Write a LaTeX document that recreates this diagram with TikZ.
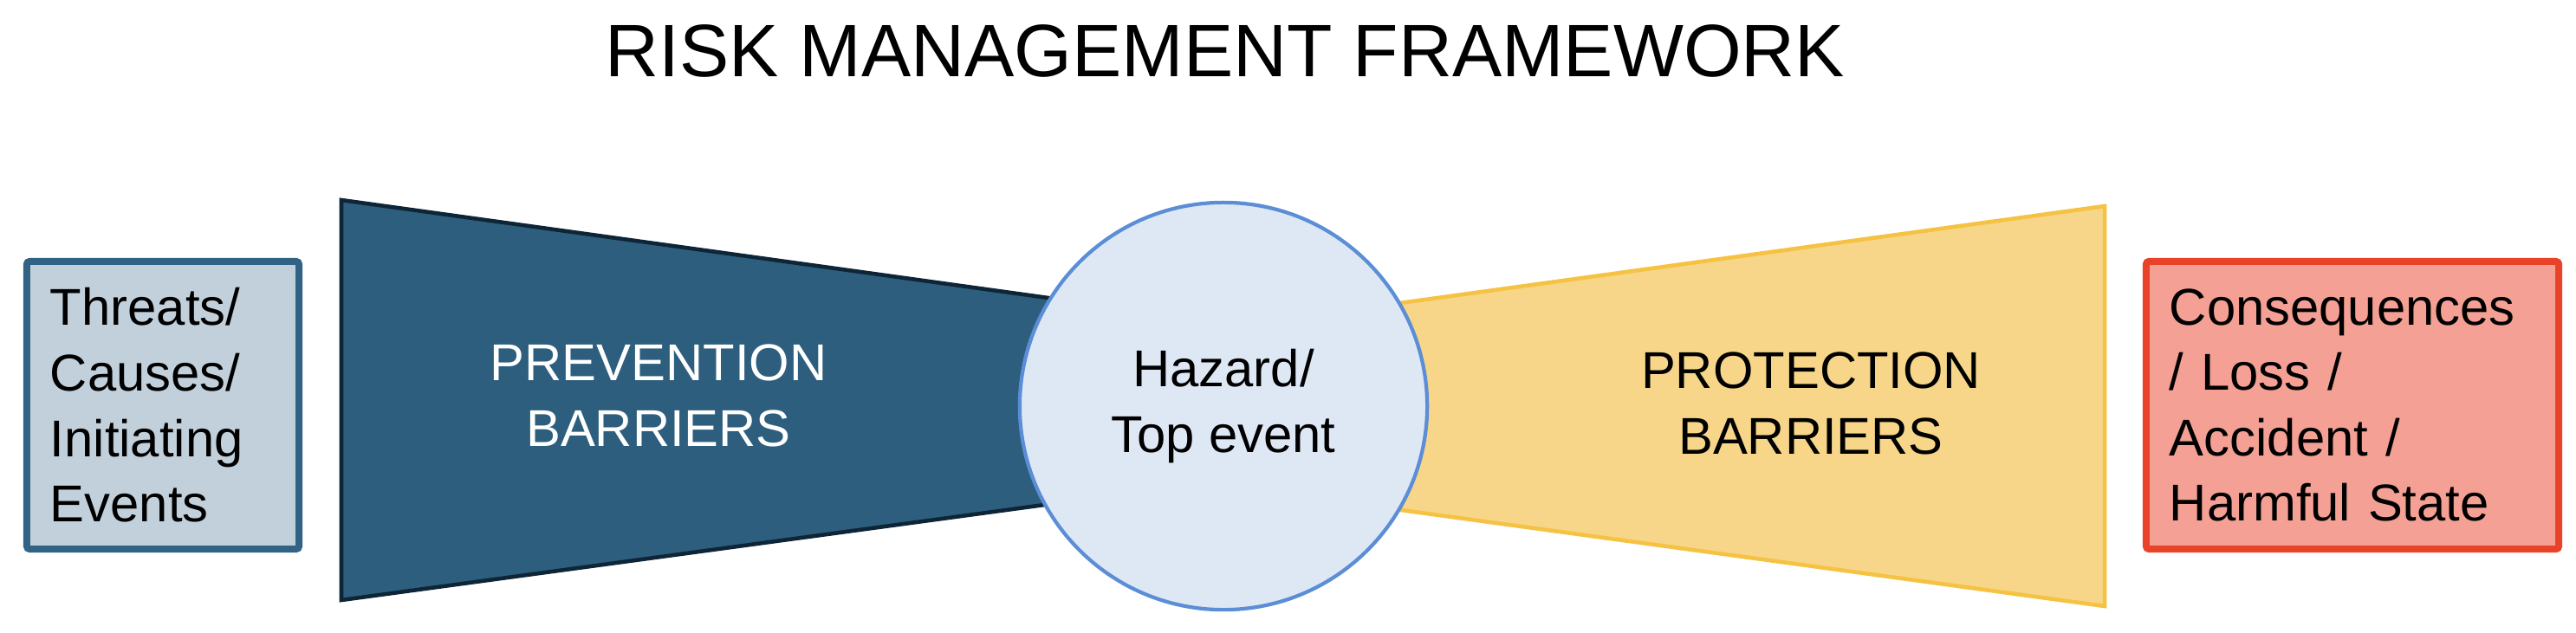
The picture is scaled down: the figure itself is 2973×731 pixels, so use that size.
\documentclass[tikz,border=0pt]{standalone}
\usepackage{fontspec}
\setmainfont{Liberation Sans}
\definecolor{prevfill}{HTML}{2E5E7E}
\definecolor{prevline}{HTML}{0E2537}
\definecolor{protfill}{HTML}{F7D689}
\definecolor{protline}{HTML}{F5C242}
\definecolor{hazfill}{HTML}{DEE8F5}
\definecolor{hazline}{HTML}{5B8ED6}
\definecolor{causefill}{HTML}{C1D0DB}
\definecolor{causeline}{HTML}{326385}
\definecolor{consfill}{HTML}{F4A094}
\definecolor{consline}{HTML}{E84328}
\newcommand{\boxfont}{\fontsize{17pt}{21.5pt}\selectfont}

\begin{document}
\begin{tikzpicture}[x=0.01cm,y=-0.01cm,
    box/.style={draw,line width=2.3pt,rounded corners=1pt,inner xsep=0.27cm,inner ysep=0pt,
        align=left,font=\boxfont,minimum height=3.32cm},
    barrier/.style={line width=1.3pt,line join=miter},
    label/.style={align=center,font=\boxfont}]
    \useasboundingbox (0,0) rectangle (2973,731);
    \node (title) at (1414,89) [anchor=base,font=\fontsize{24.4pt}{30pt}\selectfont] {RISK MANAGEMENT FRAMEWORK};
    % barriers
    \filldraw[barrier,draw=prevline,fill=prevfill] (394,231) -- (1412,372) -- (1412,555) -- (394,693) -- cycle;
    \filldraw[barrier,draw=protline,fill=protfill] (1412,378) -- (2429,238) -- (2429,700) -- (1412,561) -- cycle;
    \node (prev) at (760,457) [label,text=white] {PREVENTION\\BARRIERS};
    \node (prot) at (2090,466) [label] {PROTECTION\\BARRIERS};
    % top event
    \node (hazard) at (1412,469) [circle,draw=hazline,fill=hazfill,line width=1.2pt,
        minimum size=4.70cm,inner sep=0pt,label] {Hazard/\\Top event};
    % causes and consequences
    \node (causes) at (188,468) [box,draw=causeline,fill=causefill,text width=2.60cm]
        {Threats/\\Causes/\\Initiating\\Events};
    \node (conseq) at (2715,468) [box,draw=consline,fill=consfill,text width=4.22cm]
        {Consequences\\/ Loss /\\Accident /\\Harmful State};
\end{tikzpicture}
\end{document}
